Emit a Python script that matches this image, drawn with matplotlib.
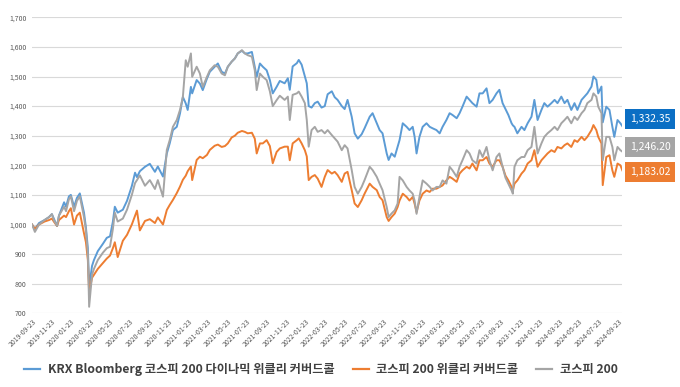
import matplotlib
matplotlib.use("Agg")
import matplotlib.pyplot as plt
import pandas as pd
from matplotlib.ticker import FuncFormatter, MultipleLocator
from matplotlib.lines import Line2D

plt.rcParams['font.family'] = ['Noto Sans CJK KR', 'DejaVu Sans']

# ---------------- data ----------------
dates = [
    "2019-09-23", "2019-10-02", "2019-10-15", "2019-11-01", "2019-11-15", "2019-11-24", "2019-11-30", "2019-12-10", "2019-12-16", "2020-01-01",
    "2020-01-07", "2020-01-16", "2020-01-22", "2020-02-01", "2020-02-10", "2020-02-19", "2020-03-03", "2020-03-09", "2020-03-15", "2020-03-19",
    "2020-03-28", "2020-04-03", "2020-04-15", "2020-05-01", "2020-05-13", "2020-05-23", "2020-06-01", "2020-06-07", "2020-06-16", "2020-07-02",
    "2020-07-15", "2020-07-30", "2020-08-09", "2020-08-15", "2020-08-24", "2020-09-09",
    "2020-09-24", "2020-10-10", "2020-10-19", "2020-11-04", "2020-11-16", "2020-11-25", "2020-12-05", "2020-12-17", "2020-12-27", "2021-01-05",
    "2021-01-14", "2021-01-20", "2021-01-30", "2021-02-03", "2021-02-17", "2021-02-27", "2021-03-08", "2021-03-21", "2021-03-30", "2021-04-14",
    "2021-04-24", "2021-05-06", "2021-05-16", "2021-05-25", "2021-06-06", "2021-06-16", "2021-06-25", "2021-07-08", "2021-07-17", "2021-07-26",
    "2021-08-08", "2021-08-17", "2021-08-23", "2021-09-02", "2021-09-11", "2021-09-23", "2021-10-03", "2021-10-12", "2021-10-24", "2021-11-03",
    "2021-11-18", "2021-11-28", "2021-12-04", "2021-12-13", "2021-12-26", "2022-01-01", "2022-01-10", "2022-01-20", "2022-01-26", "2022-02-01",
    "2022-02-10", "2022-02-20", "2022-03-01", "2022-03-13", "2022-03-23", "2022-04-01", "2022-04-14", "2022-04-23", "2022-05-02", "2022-05-15",
    "2022-05-24", "2022-06-02", "2022-06-15", "2022-06-24", "2022-07-04", "2022-07-16", "2022-07-25", "2022-08-10", "2022-08-19", "2022-09-01",
    "2022-09-10", "2022-09-19", "2022-10-02", "2022-10-08", "2022-10-17", "2022-10-27", "2022-11-05", "2022-11-11", "2022-11-21", "2022-12-03",
    "2022-12-12", "2022-12-22", "2022-12-28", "2023-01-03", "2023-01-12", "2023-01-22", "2023-02-03", "2023-02-13", "2023-02-22", "2023-03-06",
    "2023-03-16", "2023-03-25", "2023-04-06", "2023-04-16", "2023-04-25", "2023-05-08", "2023-05-17", "2023-05-26", "2023-06-08", "2023-06-17",
    "2023-06-26", "2023-07-09", "2023-07-18", "2023-07-28", "2023-08-09", "2023-08-18", "2023-08-28", "2023-09-09", "2023-09-18", "2023-09-28",
    "2023-10-07", "2023-10-16", "2023-10-26", "2023-10-30", "2023-11-04", "2023-11-13", "2023-11-26", "2023-12-05", "2023-12-15", "2023-12-27",
    "2024-01-05", "2024-01-15", "2024-01-27", "2024-02-05", "2024-02-15", "2024-02-27", "2024-03-08", "2024-03-17", "2024-03-29", "2024-04-08",
    "2024-04-17", "2024-04-29", "2024-05-09", "2024-05-18", "2024-05-31", "2024-06-09", "2024-06-18", "2024-07-01", "2024-07-07", "2024-07-16",
    "2024-07-22", "2024-08-01", "2024-08-05", "2024-08-16", "2024-08-26", "2024-09-04", "2024-09-10", "2024-09-20", "2024-09-29", "2024-10-05",
]

dynamic_cc = [  # KRX Bloomberg 코스피 200 다이나믹 위클리 커버드콜
    1000, 985, 1005, 1015, 1025, 1035, 1020, 995, 1030, 1075,
    1060, 1095, 1100, 1060, 1090, 1105, 1040, 990, 920, 790,
    860, 880, 910, 935, 955, 960, 1010, 1060, 1040, 1050,
    1080, 1130, 1175, 1160, 1180, 1195,
    1205, 1178, 1196, 1162, 1240, 1274, 1319, 1330, 1375, 1431,
    1409, 1387, 1465, 1443, 1488, 1476, 1454, 1493, 1516, 1533,
    1544, 1516, 1510, 1533, 1550, 1561, 1578, 1587, 1578, 1578,
    1583, 1533, 1499, 1544, 1533, 1521, 1488, 1443, 1465, 1485,
    1477, 1494, 1455, 1534, 1545, 1556, 1540, 1500, 1477, 1400,
    1395, 1410, 1415, 1395, 1400, 1440, 1450, 1430, 1421, 1400,
    1390, 1421, 1364, 1308, 1290, 1305, 1325, 1364, 1376, 1342,
    1319, 1308, 1240, 1218, 1240, 1229, 1263, 1285, 1342, 1330,
    1319, 1330, 1296, 1240, 1296, 1330, 1342, 1330, 1325, 1319,
    1308, 1330, 1353, 1376, 1370, 1359, 1376, 1398, 1432, 1421,
    1410, 1398, 1443, 1443, 1460, 1410, 1421, 1443, 1455, 1410,
    1390, 1370, 1342, 1335, 1330, 1308, 1330, 1319, 1342, 1364,
    1421, 1353, 1387, 1410, 1398, 1410, 1421, 1410, 1432, 1410,
    1421, 1387, 1410, 1387, 1421, 1432, 1443, 1466, 1500, 1489,
    1443, 1466, 1345, 1398, 1387, 1330, 1296, 1353, 1342, 1332.35,
]

weekly_cc = [  # 코스피 200 위클리 커버드콜
    1000, 985, 1000, 1010, 1015, 1020, 1010, 995, 1015, 1030,
    1025, 1045, 1055, 1000, 1030, 1040, 970, 940, 880, 770,
    820, 830, 850, 870, 885, 895, 920, 940, 890, 945,
    965, 1000, 1030, 1047, 980, 1012,
    1018, 1005, 1024, 1000, 1049, 1066, 1083, 1106, 1128, 1151,
    1165, 1180, 1196, 1150, 1218, 1229, 1224, 1235, 1252, 1266,
    1270, 1262, 1265, 1274, 1294, 1300, 1310, 1316, 1313, 1308,
    1310, 1290, 1240, 1274, 1274, 1285, 1265, 1207, 1245, 1257,
    1263, 1263, 1217, 1274, 1285, 1291, 1274, 1251, 1230, 1150,
    1161, 1167, 1155, 1127, 1161, 1184, 1172, 1178, 1167, 1144,
    1172, 1178, 1116, 1071, 1059, 1082, 1104, 1138, 1127, 1116,
    1093, 1082, 1025, 1012, 1025, 1037, 1059, 1081, 1104, 1093,
    1081, 1093, 1070, 1042, 1081, 1104, 1115, 1110, 1121, 1121,
    1127, 1132, 1149, 1161, 1155, 1144, 1172, 1183, 1195, 1189,
    1206, 1183, 1217, 1217, 1228, 1206, 1195, 1217, 1217, 1195,
    1165, 1149, 1127, 1115, 1138, 1149, 1172, 1183, 1206, 1217,
    1251, 1195, 1217, 1228, 1240, 1251, 1245, 1262, 1257, 1268,
    1274, 1262, 1285, 1279, 1296, 1285, 1296, 1319, 1336, 1319,
    1296, 1274, 1133, 1228, 1234, 1183, 1161, 1206, 1200, 1183.02,
]

kospi200 = [  # 코스피 200
    1000, 975, 1000, 1015, 1025, 1035, 1015, 995, 1030, 1060,
    1045, 1085, 1095, 1045, 1080, 1095, 1025, 980, 900, 722,
    830, 850, 880, 905, 920, 925, 985, 1040, 1010, 1020,
    1050, 1100, 1140, 1150, 1166, 1131,
    1150, 1120, 1150, 1094, 1252, 1285, 1330, 1353, 1387, 1431,
    1555, 1533, 1578, 1499, 1533, 1510, 1465, 1499, 1521, 1538,
    1533, 1510, 1504, 1533, 1550, 1561, 1578, 1589, 1578, 1572,
    1567, 1521, 1454, 1510, 1499, 1488, 1450, 1400, 1420, 1435,
    1421, 1432, 1353, 1438, 1443, 1449, 1432, 1410, 1353, 1263,
    1319, 1330, 1313, 1319, 1308, 1319, 1302, 1291, 1280, 1251,
    1268, 1257, 1184, 1127, 1104, 1127, 1150, 1195, 1184, 1161,
    1138, 1116, 1059, 1025, 1037, 1048, 1071, 1161, 1149, 1127,
    1115, 1104, 1080, 1036, 1093, 1149, 1138, 1127, 1115, 1127,
    1127, 1149, 1138, 1195, 1183, 1161, 1195, 1217, 1251, 1240,
    1217, 1206, 1251, 1228, 1262, 1217, 1183, 1228, 1240, 1195,
    1158, 1138, 1115, 1104, 1195, 1217, 1228, 1228, 1251, 1262,
    1330, 1240, 1274, 1296, 1308, 1319, 1330, 1319, 1342, 1353,
    1364, 1342, 1364, 1353, 1376, 1387, 1410, 1421, 1443, 1432,
    1398, 1376, 1217, 1296, 1296, 1262, 1217, 1262, 1251, 1246.20,
]

series_names = ["KRX Bloomberg 코스피 200 다이나믹 위클리 커버드콜",
                "코스피 200 위클리 커버드콜",
                "코스피 200"]
line_colors = ["#5B9BD5", "#ED7D31", "#A5A5A5"]
box_colors = ["#0B6FC4", "#ED7D31", "#A5A5A5"]

tick_start = "2019-09-23"
tick_count = 31
x_start, x_end = "2019-09-23", "2024-10-04"
y_min, y_max, y_step = 700, 1700, 100

assert len(dates) == len(dynamic_cc) == len(weekly_cc) == len(kospi200)

# ---------------- plot ----------------
x = pd.to_datetime(dates)
fig = plt.figure(figsize=(6.8, 3.87), dpi=100)
ax = fig.add_axes([32 / 680, 1 - 313.3 / 387, 590 / 680, 296 / 387])

all_series = [dynamic_cc, weekly_cc, kospi200]
for vals, col in zip(all_series, line_colors):
    ax.plot(x, vals, color=col, lw=1.4, solid_joinstyle='round')

ax.set_ylim(y_min, y_max)
ax.set_xlim(pd.Timestamp(x_start), pd.Timestamp(x_end))
ax.yaxis.set_major_locator(MultipleLocator(y_step))
ax.yaxis.set_major_formatter(FuncFormatter(lambda v, p: f"{v:,.0f}"))
ax.grid(axis='y', color='#D9D9D9', lw=0.8)
ax.set_axisbelow(True)
for s in ax.spines.values():
    s.set_visible(False)

ticks = pd.date_range(start=tick_start, periods=tick_count, freq=pd.DateOffset(months=2))
ax.set_xticks(ticks)
ax.set_xticklabels([t.strftime("%Y-%m-%d") for t in ticks], rotation=45,
                   ha='right', rotation_mode='anchor')
ax.tick_params(axis='x', length=0, pad=3, labelsize=5, labelcolor='#595959')
ax.tick_params(axis='y', length=0, pad=4, labelsize=5, labelcolor='#595959')

# end-value labels (series order: dynamic, weekly, kospi200)
offsets = [5.0, -1.2, 3.4]
for vals, bc, dy in zip(all_series, box_colors, offsets):
    ax.annotate(f"{vals[-1]:,.2f}", xy=(x[-1], vals[-1]), xytext=(5.5, dy),
                textcoords='offset points', ha='left', va='center',
                color='white', fontsize=7.5, annotation_clip=False,
                bbox=dict(boxstyle='square,pad=0.45', fc=bc, ec='none'))

handles = [Line2D([0], [0], color=c, lw=1.6) for c in line_colors]
leg = fig.legend(handles, series_names, loc='lower center', bbox_to_anchor=(0.472, 0.0),
                 ncol=3, frameon=False, handlelength=1.3, handletextpad=0.6,
                 columnspacing=1.5, prop={'family': ['Noto Sans CJK KR', 'DejaVu Sans'],
                                          'weight': 'bold', 'size': 8.8})
for t in leg.get_texts():
    t.set_color('#404040')

fig.savefig("out.png", dpi=100)
